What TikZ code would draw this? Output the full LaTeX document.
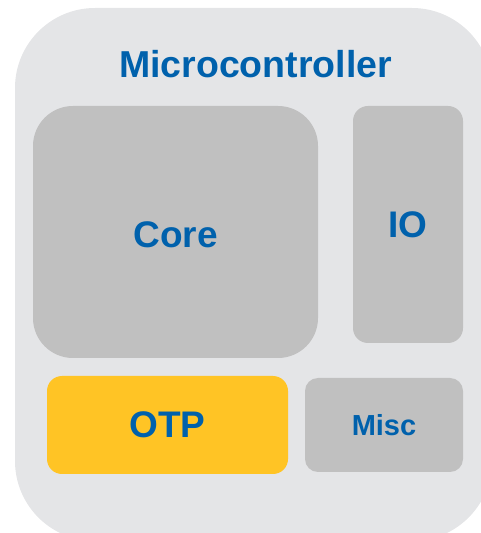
\documentclass[tikz,border=0pt]{standalone}
\usepackage{fontspec}
\setmainfont{Liberation Sans}
\definecolor{mcublue}{HTML}{0061AC}
\definecolor{mcubg}{HTML}{E4E5E7}
\definecolor{blockgray}{HTML}{C0C0C0}
\definecolor{otpyellow}{HTML}{FFC425}
\begin{document}
\begin{tikzpicture}[x=1pt,y=1pt,
  block/.style={fill=blockgray, draw=none, inner sep=0pt,
    font=\bfseries\fontsize{37}{41}\selectfont, text=mcublue},
  label/.style={font=\bfseries\fontsize{37.5}{41}\selectfont, text=mcublue, inner sep=0pt}]
\useasboundingbox (0,0) rectangle (481,533);
\clip (0,0) rectangle (481,533);
% chip outline
\node[fill=mcubg, draw=none, rounded corners=80pt, inner sep=0pt,
  minimum width=477pt, minimum height=533pt] (mcu) at (253.5,258.5) {};
\node[label, anchor=base] (title) at (255.5,455) {Microcontroller};
% functional blocks
\node[block, rounded corners=40pt, minimum width=285pt, minimum height=252pt] (core) at (175.5,301) {\raisebox{-3pt}[\height][\depth]{Core}};
\node[block, rounded corners=15pt, minimum width=110pt, minimum height=237pt] (io) at (408,308.5) {IO};
\node[block, fill=otpyellow, rounded corners=15pt, minimum width=241pt, minimum height=98pt] (otp) at (167.5,108) {OTP};
\node[block, rounded corners=13pt, minimum width=158pt, minimum height=94pt,
  font=\bfseries\fontsize{29}{33}\selectfont] (misc) at (384,108) {Misc};
\end{tikzpicture}
\end{document}
